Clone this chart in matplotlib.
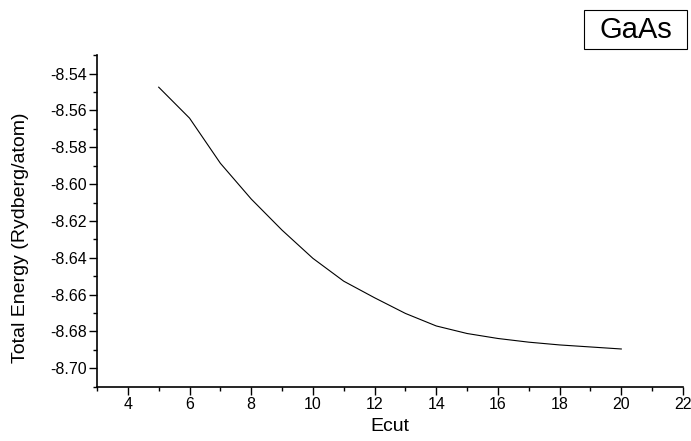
import matplotlib
matplotlib.use('Agg')
import matplotlib.pyplot as plt
from matplotlib.patches import Rectangle
from matplotlib.ticker import MultipleLocator, FormatStrFormatter

plt.rcParams['font.family'] = ['Liberation Sans', 'DejaVu Sans']
plt.rcParams['axes.unicode_minus'] = False

ecut = [5, 6, 7, 8, 9, 10, 11, 12, 13, 14, 15, 16, 17, 18, 19, 20]
energy = [-8.5474, -8.5642, -8.5887, -8.6081, -8.6250, -8.6403, -8.6527, -8.6617,
          -8.6702, -8.6770, -8.6811, -8.6838, -8.6858, -8.6873, -8.6884, -8.6895]

fig = plt.figure(figsize=(6.91, 4.41), dpi=100)
ax = fig.add_axes([0.1404, 0.123, 0.848, 0.752])
ax.plot(ecut, energy, color='black', linewidth=0.8)

ax.set_xlim(3, 22)
ax.set_ylim(-8.71, -8.53)
ax.xaxis.set_major_locator(MultipleLocator(2))
ax.xaxis.set_minor_locator(MultipleLocator(1))
ax.yaxis.set_major_locator(MultipleLocator(0.02))
ax.yaxis.set_minor_locator(MultipleLocator(0.01))
ax.yaxis.set_major_formatter(FormatStrFormatter('%.2f'))
ax.tick_params(which='major', direction='out', length=5.5, width=1, labelsize=11.5, pad=2)
ax.tick_params(which='minor', direction='out', length=3, width=1)
ax.spines['top'].set_visible(False)
ax.spines['right'].set_visible(False)
ax.spines['left'].set_linewidth(1.2)
ax.spines['bottom'].set_linewidth(1.2)

ax.set_xlabel('Ecut', fontsize=14, va='center')
ax.set_ylabel('Total Energy (Rydberg/atom)', fontsize=14, va='center')
ax.xaxis.set_label_coords(0.5, -0.12)
ax.yaxis.set_label_coords(-0.13, 0.45)

# label box in the top right corner
fig.patches.append(Rectangle((0.845, 0.889), 0.149, 0.0884, transform=fig.transFigure,
                             facecolor='white', edgecolor='black', linewidth=0.8))
fig.text(0.9197, 0.933, 'GaAs', fontsize=21, ha='center', va='center')

fig.savefig('out.png', dpi=100)
